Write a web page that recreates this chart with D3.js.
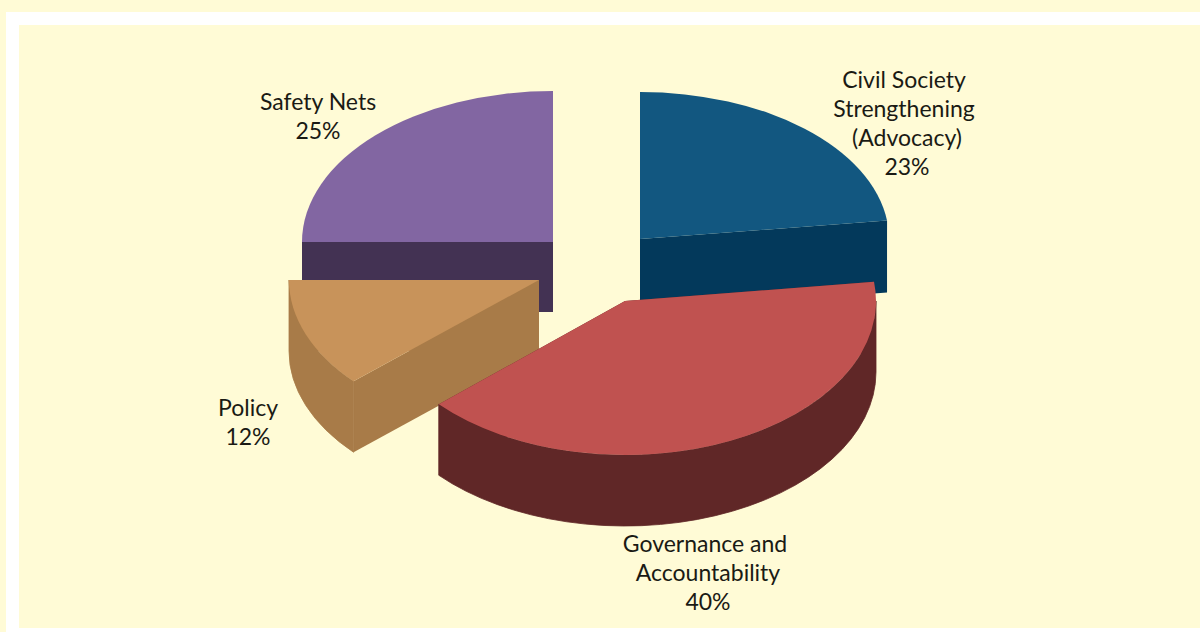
<!DOCTYPE html>
<html>
<head>
<meta charset="utf-8">
<script src="https://cdn.jsdelivr.net/npm/d3@7"></script>
<style>
  html, body { margin: 0; padding: 0; background: #fffbd6; overflow: hidden; }
  text { font-family: Lato, "Open Sans", sans-serif; fill: #1a1a14; }
</style>
</head>
<body>
<script>
//chart data, clockwise from 12 o'clock., labels show them rounded
var categories = ["Civil Society Strengthening (Advocacy)", "Governance and Accountability", "Policy", "Safety Nets"];
var values = [23, 40.3, 11.7, 25];
var labelLines = [
    ["Civil Society", "Strengthening", "(Advocacy)"],
    ["Governance and", "Accountability"],
    ["Policy"],
    ["Safety Nets"]
];

//colors for top and side of each slice
var topColors = ["#125780", "#c05250", "#c8935a", "#8266a2"];
var sideColors = ["#03395b", "#602727", "#a87b48", "#433253"];

var svgWidth = 1200;
var svgHeight = 632;

//pie shape, slices nearer the viewer come out a bit bigger
var radiiX = [249, 251, 250, 251];
var radiiY = [147, 154, 151, 151];
var depths = [72, 71, 71, 70];

//exploded centre of each slice
var centers = [[640, 239], [625, 301], [539, 280], [553, 242]];

//label anchor: x, first baseline, and small shift of the lower lines
var labelPos = [
    { x: 904, y: 88, shift: 3 },
    { x: 705, y: 552, shift: 3 },
    { x: 248, y: 416, shift: 0 },
    { x: 318, y: 110, shift: 0 }
];

var svg = d3.select("body")
    .append("svg")
    .attr("width", svgWidth)
    .attr("height", svgHeight)
    .style("display", "block");

//background frame
svg.append("rect")
    .attr("width", svgWidth).attr("height", svgHeight)
    .style("fill", "#fffbd6");
svg.append("rect")
    .attr("x", 6).attr("y", 12)
    .attr("width", svgWidth - 6).attr("height", svgHeight - 12)
    .style("fill", "#ffffff");
svg.append("rect")
    .attr("x", 19).attr("y", 25)
    .attr("width", svgWidth - 19).attr("height", 603)
    .style("fill", "#fffbd6");

var pie = d3.pie().sort(null).value(function(d) { return d; });
var slices = pie(values);

function px(i, a) { return centers[i][0] + radiiX[i] * Math.sin(a); }
function py(i, a) { return centers[i][1] - radiiY[i] * Math.cos(a); }

//flat side running from the centre out to the rim at angle a
function radialFace(i, a) {
    var c = centers[i];
    return "M" + c[0] + "," + c[1] +
        "L" + px(i, a) + "," + py(i, a) +
        "L" + px(i, a) + "," + (py(i, a) + depths[i]) +
        "L" + c[0] + "," + (c[1] + depths[i]) + "Z";
}

//curved outer wall, only the part that faces the viewer
function outerWall(i, a0, a1) {
    var s = Math.max(a0, Math.PI / 2);
    var e = Math.min(a1, Math.PI * 1.5);
    if (e <= s) return "";
    var r = radiiX[i] + "," + radiiY[i];
    return "M" + px(i, s) + "," + py(i, s) +
        "A" + r + " 0 0 1 " + px(i, e) + "," + py(i, e) +
        "L" + px(i, e) + "," + (py(i, e) + depths[i]) +
        "A" + r + " 0 0 0 " + px(i, s) + "," + (py(i, s) + depths[i]) + "Z";
}

//paint back slices first
var drawOrder = [3, 0, 2, 1];

drawOrder.forEach(function(i) {
    var d = slices[i];
    var g = svg.append("g").attr("class", "slice");

    g.append("path").attr("d", radialFace(i, d.startAngle)).style("fill", sideColors[i]);
    g.append("path").attr("d", radialFace(i, d.endAngle)).style("fill", sideColors[i]);
    //thin stroke on the wall closes the seam with the flat side
    g.append("path")
        .attr("d", outerWall(i, d.startAngle, d.endAngle))
        .style("fill", sideColors[i])
        .style("stroke", sideColors[i])
        .style("stroke-width", 0.8);

    //top face comes from d3.arc, squashed into an ellipse
    var arc = d3.arc().innerRadius(0).outerRadius(radiiX[i]);
    g.append("path")
        .attr("d", arc(d))
        .attr("transform", "translate(" + centers[i][0] + "," + centers[i][1] + ") scale(1," + (radiiY[i] / radiiX[i]) + ")")
        .style("fill", topColors[i]);
});

//labels
var lineGap = 29;
labelLines.forEach(function(lines, i) {
    var pos = labelPos[i];
    var t = svg.append("text")
        .attr("text-anchor", "middle")
        .style("font-size", "23px");
    lines.concat([Math.round(values[i]) + "%"]).forEach(function(line, k) {
        t.append("tspan")
            .attr("x", k == 0 || (i == 0 && k == 1) ? pos.x : pos.x + pos.shift)
            .attr("y", pos.y + k * lineGap)
            .text(line);
    });
});
</script>
</body>
</html>
